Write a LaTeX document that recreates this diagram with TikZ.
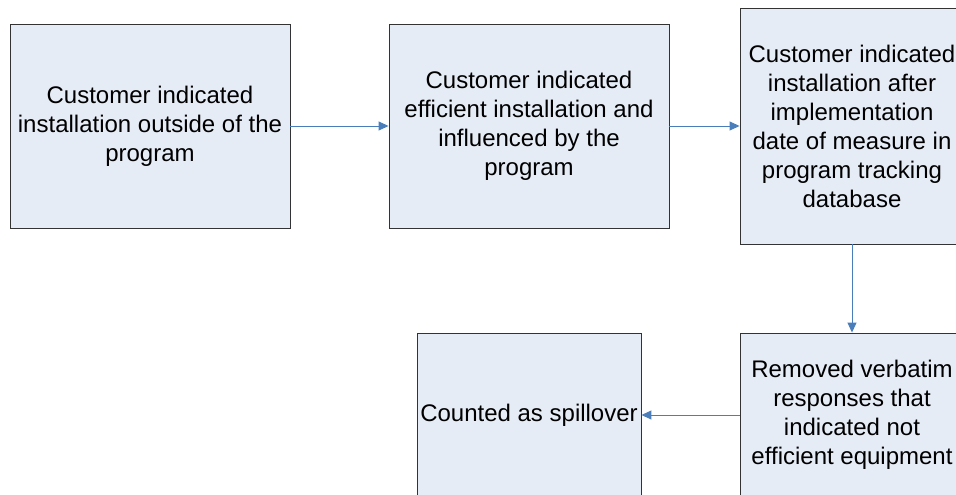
\documentclass[tikz,border=0pt]{standalone}
\usepackage{fontspec}
\setmainfont{Liberation Sans}
\usetikzlibrary{arrows.meta}
\definecolor{boxfill}{HTML}{E6ECF6}
\definecolor{linkblue}{HTML}{4A7EBB}
\tikzset{
  stepbox/.style={draw=black!80, line width=0.9pt, fill=boxfill, align=center, inner sep=0pt,
    font=\fontsize{24}{29}\selectfont},
  link/.style={draw=linkblue, line width=1pt, -{Triangle[length=10pt,width=9pt]}}
}
\begin{document}
\begin{tikzpicture}[x=1pt,y=-1pt]
			%%%%% START %%%%%
			
			\useasboundingbox (0,0) rectangle (956,495);
			
			\node[stepbox, minimum width=280pt, minimum height=204pt] (outside) at (150,126)
			{Customer indicated\\installation outside of the\\program};
			\node[stepbox, minimum width=280pt, minimum height=204pt] (influenced) at (529,126)
			{Customer indicated\\efficient installation and\\influenced by the\\program};
			\node[stepbox, minimum width=224pt, minimum height=236pt] (afterdate) at (852,126)
			{Customer indicated\\installation after\\implementation\\date of measure in\\program tracking\\database};
			\node[stepbox, minimum width=224pt, minimum height=164pt] (removed) at (852,415)
			{Removed verbatim\\responses that\\indicated not\\efficient equipment};
			\node[stepbox, minimum width=224pt, minimum height=164pt] (spill) at (529,415)
			{Counted as spillover};
			
			\draw[link] (outside) -- (influenced);
			\draw[link] (influenced) -- (afterdate);
			\draw[link] (afterdate) -- (removed);
			\draw[link] (removed) -- (spill);
			
			%%%%% END %%%%%
\end{tikzpicture}
\end{document}
